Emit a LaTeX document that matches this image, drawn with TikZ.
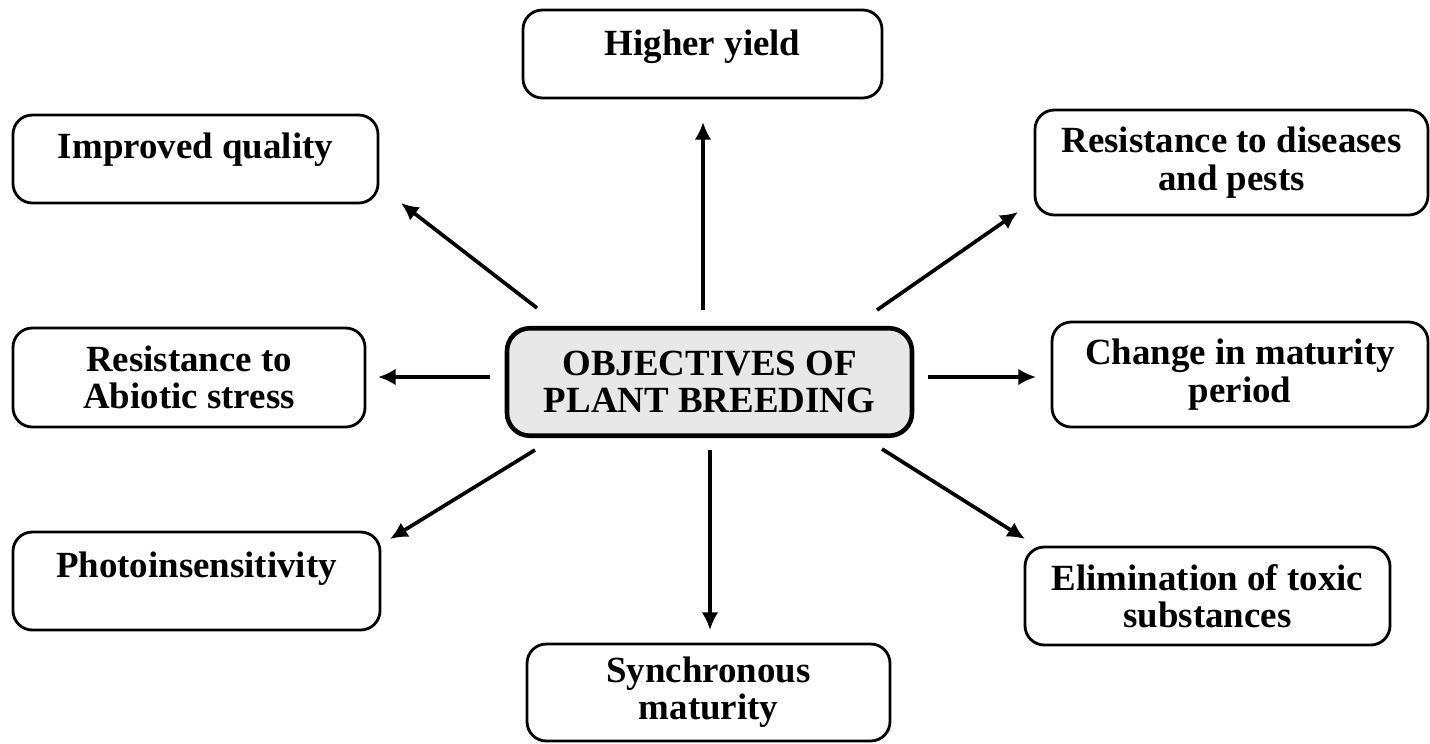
\documentclass[tikz,border=0pt]{standalone}
\usepackage{fontspec}
\setmainfont{Liberation Serif}
\usetikzlibrary{arrows.meta,positioning}

\begin{document}
\begin{tikzpicture}[
  font=\fontsize{21}{21.2}\selectfont\bfseries,
  goalbox/.style={draw, line width=1.6pt, rounded corners=11pt, align=center, inner sep=2pt},
  onebox/.style={goalbox, text height=0.5cm, text depth=#1},
  mainnode/.style={draw, line width=2.6pt, rounded corners=13pt, align=center, fill=gray!18, minimum width=8.1cm, minimum height=2.15cm},
  arr/.style={-{Latex[length=10pt, width=9.5pt]}, line width=2.1pt}
]
\useasboundingbox (0,0) rectangle (28.6,-14.86);

\node[mainnode] (objectives) at (14.19,-7.64) {OBJECTIVES OF\\PLANT BREEDING};

\node[onebox=0.44cm, minimum width=7.18cm, minimum height=1.76cm] (yield)     at (14.05,-1.08)  {Higher yield};
\node[onebox=0.52cm, minimum width=7.3cm,  minimum height=1.76cm] (quality)   at (3.91,-3.18)   {Improved quality};
\node[goalbox, minimum width=7.86cm, minimum height=2.1cm]        (diseases)  at (24.63,-3.25)  {Resistance to diseases\\and pests};
\node[goalbox, minimum width=7.04cm, minimum height=1.98cm]       (abiotic)   at (3.78,-7.55)   {Resistance to\\Abiotic stress};
\node[goalbox, minimum width=7.52cm, minimum height=2.1cm]        (maturity)  at (24.8,-7.49)   {Change in maturity\\period};
\node[onebox=0.64cm, minimum width=7.34cm, minimum height=1.96cm] (photo)     at (3.93,-11.62)  {Photoinsensitivity};
\node[goalbox, minimum width=7.3cm, minimum height=1.96cm]        (toxic)     at (24.15,-11.92) {Elimination of toxic\\substances};
\node[goalbox, minimum width=7.26cm, minimum height=1.94cm]       (synchron)  at (14.17,-13.85) {Synchronous\\maturity};

% arrow ends
\coordinate (yield-t)    at (14.06,-6.2);  \coordinate (yield-h)    at (14.06,-2.44);
\coordinate (quality-t)  at (10.74,-6.16); \coordinate (quality-h)  at (8.02,-4.06);
\coordinate (diseases-t) at (17.54,-6.2);  \coordinate (diseases-h) at (20.36,-4.24);
\coordinate (abiotic-t)  at (9.8,-7.54);   \coordinate (abiotic-h)  at (7.56,-7.54);
\coordinate (maturity-t) at (18.56,-7.54); \coordinate (maturity-h) at (20.72,-7.54);
\coordinate (photo-t)    at (10.7,-9.0);   \coordinate (photo-h)    at (7.8,-10.78);
\coordinate (synchron-t) at (14.2,-9.0);   \coordinate (synchron-h) at (14.2,-12.6);
\coordinate (toxic-t)    at (17.64,-8.98); \coordinate (toxic-h)    at (20.5,-10.78);

\foreach \g in {yield,quality,diseases,abiotic,maturity,photo,synchron,toxic}
  \draw[arr] (\g-t) -- (\g-h);
\end{tikzpicture}
\end{document}
